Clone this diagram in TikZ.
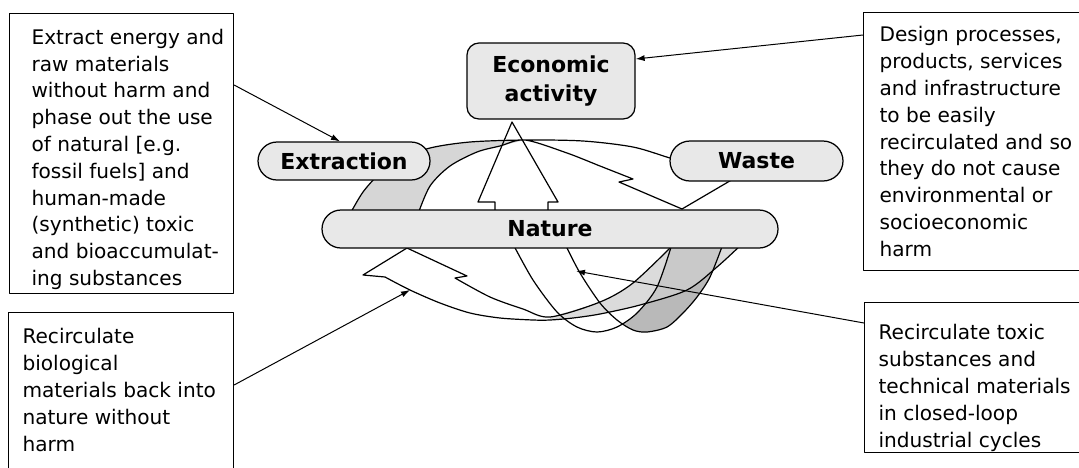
\documentclass[tikz,border=0pt]{standalone}
\usepackage{fontspec}
\setmainfont{DejaVu Sans}
\usetikzlibrary{arrows.meta}
\begin{document}
\begin{tikzpicture}[x=1pt,y=-1pt, line width=1.1pt, line join=round,
  boxtxt/.style={font=\fontsize{20.1}{26.8}\selectfont, align=left, inner sep=0pt, anchor=north west},
  frame/.style={draw, fill=white, rectangle, inner sep=0pt, anchor=north west},
  lbl/.style={draw, line width=1.25pt, fill=gray!18, font=\bfseries\fontsize{22}{28.5}\selectfont, inner sep=0pt},
  ptr/.style={-{Latex[length=9pt,width=6pt]}, line width=1pt},
  band/.style={line width=1.2pt}]
\useasboundingbox (0,0) rectangle (1079,467);
\clip (0,0) rectangle (1079,467);

% ---------- fills ----------
% extraction band (back side, grey)
\fill[gray!32] (350,214) -- plot[smooth] coordinates {(350,214) (363,192) (380,173) (397,160) (430,148) (470,142) (525,140)}
  -- plot[smooth] coordinates {(525,140) (500,146) (477,152) (450,166) (430,186) (418,214)} -- cycle;
% technical loop (right half dark)
\fill[gray!55] (565,244) -- plot[smooth] coordinates {(565,244) (580,273) (600,303) (617,320) (633,330) (647,332) (667,327) (683,313) (697,297) (710,277) (723,244)} -- cycle;
\fill[white] (513,244) -- plot[smooth] coordinates {(513,244) (533,280) (557,312) (577,327) (597,332) (617,327) (637,313) (657,287) (672,244)} -- cycle;
% biological band (back side, grey)
\fill[gray!28] (550,317) -- plot[smooth] coordinates {(550,317) (600,302) (633,283) (674,244)}
  -- plot[smooth] coordinates {(742,244) (717,267) (687,290) (640,305) (600,314) (573,318) (550,320)} -- cycle;
\begin{scope}
  \clip (550,317) -- plot[smooth] coordinates {(550,317) (600,302) (633,283) (674,244)}
  -- plot[smooth] coordinates {(742,244) (717,267) (687,290) (640,305) (600,314) (573,318) (550,320)} -- cycle;
  \fill[gray!42] (565,244) -- plot[smooth] coordinates {(565,244) (580,273) (600,303) (617,320) (633,330) (647,332) (667,327) (683,313) (697,297) (710,277) (723,244)} -- cycle;
  \fill[gray!28] (513,244) -- plot[smooth] coordinates {(513,244) (533,280) (557,312) (577,327) (597,332) (617,327) (637,313) (657,287) (672,244)} -- cycle;
\end{scope}

% ---------- outlines ----------
% extraction / waste ribbon arrow
\draw[band] plot[smooth] coordinates {(350,214) (363,192) (380,173) (397,160) (430,148) (470,142) (525,140) (583,141) (633,147) (670,158) (700,166) (728,173)}
  -- (740,175) -- (682,209) -- (619,182) -- (633,179)
  -- plot[smooth] coordinates {(633,179) (600,166) (567,153) (525,140) (500,146) (477,152) (450,166) (430,186) (418,214)};
% up arrow to economic activity
\draw[band] (495,214) -- (495,202) -- (478,202) -- (512,122) -- (558,202) -- (548,202) -- (548,214);
% technical loop
\draw[band] plot[smooth] coordinates {(513,244) (533,280) (557,312) (577,327) (597,332) (617,327) (637,313) (657,287) (672,244)};
\draw[band] plot[smooth] coordinates {(565,244) (580,273) (600,303) (617,320) (633,330) (647,332) (667,327) (683,313) (697,297) (710,277) (723,244)};
% biological ribbon arrow
\draw[band] plot[smooth] coordinates {(742,244) (717,267) (687,290) (640,305) (600,314) (573,318) (550,320) (533,320) (500,318) (470,313) (440,303) (410,290) (385,277)}
  -- (363,275) -- (407,248) -- (467,276) -- (455,278)
  -- plot[smooth] coordinates {(455,278) (490,297) (523,309) (550,317) (600,302) (633,283) (674,244)};

% ---------- labelled nodes ----------
\node[lbl, minimum width=168pt, minimum height=76pt, rounded corners=12pt, align=center] (econ) at (551,81) {Economic\\activity};
\node[lbl, minimum width=172pt, minimum height=38pt, rounded corners=19pt] (ext) at (344,161) {Extraction};
\node[lbl, minimum width=173pt, minimum height=40pt, rounded corners=20pt] (waste) at (756.5,161) {Waste};
\node[lbl, minimum width=456pt, minimum height=38pt, rounded corners=19pt] (nature) at (550,229) {Nature};

% ---------- text boxes ----------
\node[frame, minimum width=224pt, minimum height=280pt] (tl) at (9,13) {};
\node[boxtxt] (tlt) at (31,28.5) {Extract energy and\\raw materials\\without harm and\\phase out the use\\of natural [e.g.\\fossil fuels] and\\human-made\\(synthetic) toxic\\and bioaccumulat-\\ing substances};
\node[frame, minimum width=230pt, minimum height=258pt] (tr) at (863,12) {};
\node[boxtxt] (trt) at (879,26) {Design processes,\\products, services\\and infrastructure\\to be easily\\recirculated and so\\they do not cause\\environmental or\\socioeconomic\\harm};
\node[frame, minimum width=225pt, minimum height=200pt] (bl) at (8,312) {};
\node[boxtxt] (blt) at (22,328) {Recirculate\\biological\\materials back into\\nature without\\harm};
\node[frame, minimum width=230pt, minimum height=150pt] (br) at (864,302) {};
\node[boxtxt] (brt) at (878,324) {Recirculate toxic\\substances and\\technical materials\\in closed-loop\\industrial cycles};

% ---------- pointers ----------
\coordinate (bio) at (410,290);
\coordinate (tox) at (576,271);
\draw[ptr] ([yshift=-72pt]tl.north east) -- ([xshift=-4pt]ext.north);
\draw[ptr] ([yshift=-23pt]tr.north west) -- ([yshift=22pt]econ.east);
\draw[ptr] ([yshift=-73pt]bl.north east) -- (bio);
\draw[ptr] ([yshift=-21pt]br.north west) -- (tox);
\end{tikzpicture}
\end{document}
